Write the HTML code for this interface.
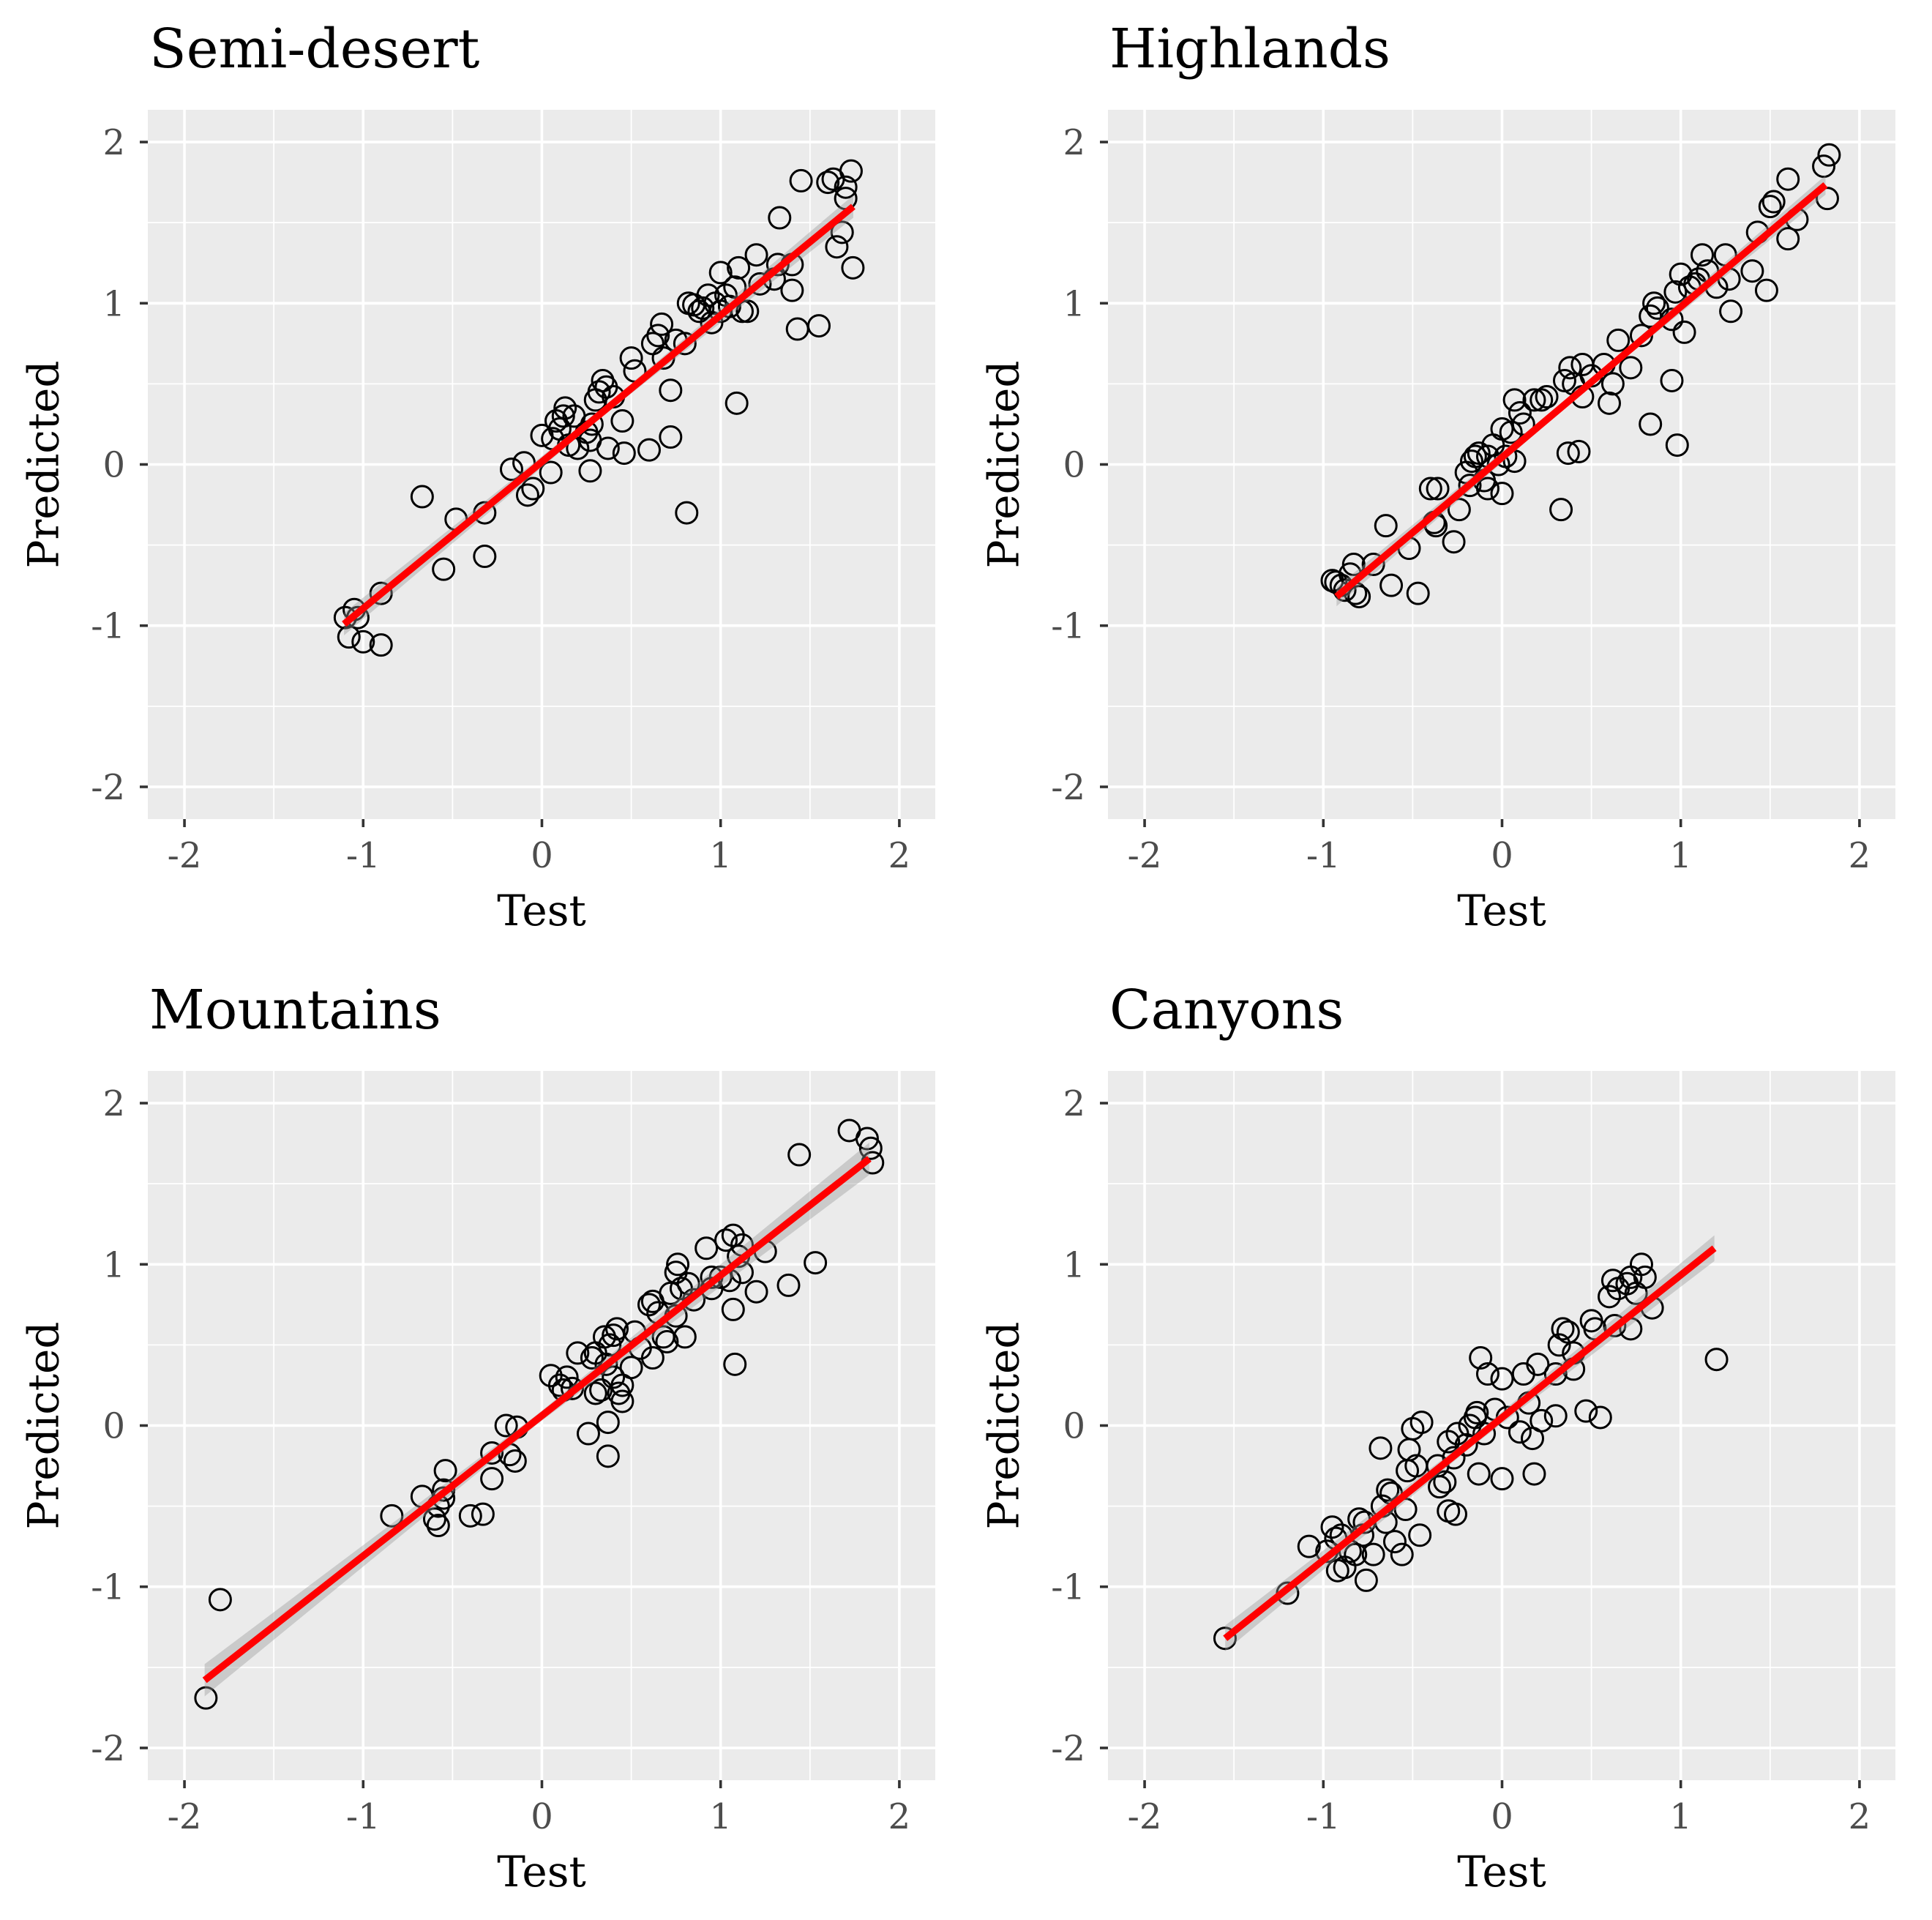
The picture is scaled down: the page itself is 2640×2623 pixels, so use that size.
<!DOCTYPE html>
<html><head><meta charset="utf-8">
<style>
html,body{margin:0;padding:0;background:#fff;}
svg{display:block;font-family:"DejaVu Serif","Liberation Serif",serif;}
</style></head>
<body>
<svg id="chart" width="2640" height="2623" viewBox="0 0 2640 2623" xmlns="http://www.w3.org/2000/svg"></svg>
<script>
const panelNames = ["Semi-desert","Highlands","Mountains","Canyons"];
const xTicks = [-2,-1,0,1,2];
const yTicks = [-2,-1,0,1,2];
const tickLabels = ["-2","-1","0","1","2"];

const semiDesert = [[-1.1,-0.95],[-1.08,-1.07],[-1.05,-0.9],[-1.03,-0.95],[-1.0,-1.1],[-0.9,-1.12],[-0.9,-0.8],[-0.67,-0.2],[-0.55,-0.65],[-0.48,-0.34],[-0.32,-0.3],[-0.32,-0.57],[-0.17,-0.03],[-0.1,0.01],[-0.08,-0.19],[-0.05,-0.15],[0.0,0.18],[0.05,-0.05],[0.06,0.16],[0.08,0.27],[0.1,0.22],[0.12,0.3],[0.13,0.35],[0.15,0.12],[0.18,0.3],[0.2,0.1],[0.25,0.2],[0.27,0.15],[0.27,-0.04],[0.28,0.25],[0.3,0.4],[0.32,0.45],[0.34,0.52],[0.36,0.48],[0.37,0.1],[0.4,0.42],[0.45,0.27],[0.46,0.07],[0.5,0.66],[0.52,0.58],[0.6,0.09],[0.62,0.75],[0.65,0.8],[0.67,0.87],[0.68,0.66],[0.72,0.17],[0.72,0.46],[0.75,0.77],[0.8,0.75],[0.81,-0.3],[0.82,1.0],[0.85,0.99],[0.88,0.95],[0.9,0.97],[0.93,1.05],[0.95,0.88],[0.97,1.0],[1.0,0.95],[1.0,1.19],[1.03,1.05],[1.05,0.98],[1.08,1.1],[1.09,0.38],[1.1,1.22],[1.12,0.95],[1.15,0.95],[1.2,1.3],[1.22,1.12],[1.3,1.15],[1.32,1.24],[1.33,1.53],[1.4,1.08],[1.4,1.24],[1.43,0.84],[1.45,1.76],[1.55,0.86],[1.6,1.75],[1.63,1.77],[1.65,1.35],[1.68,1.44],[1.7,1.65],[1.7,1.72],[1.73,1.82],[1.74,1.22]];
const highlands = [[-0.95,-0.72],[-0.93,-0.73],[-0.9,-0.75],[-0.88,-0.78],[-0.85,-0.68],[-0.83,-0.62],[-0.82,-0.8],[-0.8,-0.82],[-0.72,-0.62],[-0.65,-0.38],[-0.62,-0.75],[-0.52,-0.52],[-0.47,-0.8],[-0.4,-0.15],[-0.38,-0.36],[-0.36,-0.15],[-0.37,-0.38],[-0.27,-0.48],[-0.24,-0.28],[-0.2,-0.05],[-0.18,-0.13],[-0.17,0.02],[-0.15,0.05],[-0.13,0.07],[-0.1,-0.1],[-0.08,-0.15],[-0.08,0.05],[-0.05,0.12],[-0.02,0.0],[0.0,-0.18],[0.02,0.05],[0.0,0.22],[0.05,0.2],[0.07,0.02],[0.07,0.4],[0.1,0.32],[0.12,0.25],[0.18,0.4],[0.22,0.4],[0.25,0.42],[0.33,-0.28],[0.35,0.52],[0.37,0.07],[0.38,0.6],[0.4,0.5],[0.43,0.08],[0.45,0.62],[0.45,0.42],[0.5,0.55],[0.57,0.62],[0.6,0.38],[0.62,0.5],[0.65,0.77],[0.72,0.6],[0.78,0.8],[0.83,0.25],[0.83,0.92],[0.85,1.0],[0.87,0.97],[0.95,0.52],[0.95,0.9],[0.97,1.07],[0.98,0.12],[1.0,1.18],[1.02,0.82],[1.05,1.1],[1.08,1.12],[1.1,1.15],[1.12,1.3],[1.15,1.2],[1.2,1.1],[1.25,1.3],[1.27,1.15],[1.28,0.95],[1.4,1.2],[1.43,1.44],[1.48,1.08],[1.5,1.6],[1.52,1.63],[1.6,1.4],[1.6,1.77],[1.65,1.52],[1.8,1.85],[1.82,1.65],[1.83,1.92]];
const mountains = [[-1.88,-1.69],[-1.8,-1.08],[-0.84,-0.56],[-0.67,-0.44],[-0.6,-0.58],[-0.58,-0.62],[-0.58,-0.5],[-0.55,-0.4],[-0.54,-0.28],[-0.55,-0.45],[-0.4,-0.56],[-0.33,-0.55],[-0.28,-0.17],[-0.28,-0.33],[-0.2,0.0],[-0.18,-0.18],[-0.15,-0.22],[-0.14,-0.01],[0.05,0.31],[0.1,0.25],[0.12,0.22],[0.14,0.3],[0.17,0.23],[0.2,0.45],[0.26,-0.05],[0.28,0.42],[0.3,0.2],[0.3,0.45],[0.33,0.22],[0.35,0.55],[0.36,0.38],[0.37,0.02],[0.37,-0.19],[0.38,0.5],[0.4,0.56],[0.4,0.3],[0.42,0.6],[0.43,0.2],[0.45,0.25],[0.45,0.15],[0.5,0.36],[0.52,0.58],[0.55,0.48],[0.6,0.75],[0.62,0.77],[0.62,0.42],[0.65,0.7],[0.68,0.55],[0.7,0.52],[0.72,0.82],[0.75,0.68],[0.75,0.95],[0.76,1.0],[0.78,0.85],[0.8,0.55],[0.82,0.88],[0.85,0.78],[0.92,1.1],[0.95,0.92],[0.95,0.85],[1.0,0.92],[1.03,1.15],[1.05,0.9],[1.07,1.18],[1.07,0.72],[1.08,0.38],[1.1,1.05],[1.12,0.95],[1.12,1.12],[1.2,0.83],[1.25,1.08],[1.38,0.87],[1.44,1.68],[1.53,1.01],[1.72,1.83],[1.82,1.78],[1.84,1.72],[1.85,1.63]];
const canyons = [[-1.55,-1.32],[-1.2,-1.04],[-1.08,-0.75],[-0.98,-0.78],[-0.95,-0.63],[-0.93,-0.7],[-0.92,-0.9],[-0.9,-0.68],[-0.88,-0.88],[-0.85,-0.78],[-0.82,-0.8],[-0.8,-0.58],[-0.78,-0.68],[-0.77,-0.6],[-0.76,-0.96],[-0.72,-0.8],[-0.68,-0.14],[-0.67,-0.5],[-0.65,-0.6],[-0.64,-0.4],[-0.62,-0.42],[-0.6,-0.72],[-0.56,-0.8],[-0.54,-0.52],[-0.53,-0.28],[-0.52,-0.15],[-0.5,-0.02],[-0.48,-0.25],[-0.45,0.02],[-0.46,-0.68],[-0.36,-0.25],[-0.35,-0.38],[-0.32,-0.35],[-0.3,-0.53],[-0.3,-0.1],[-0.27,-0.2],[-0.26,-0.55],[-0.25,-0.05],[-0.2,-0.12],[-0.18,0.0],[-0.15,0.05],[-0.14,0.08],[-0.13,-0.3],[-0.12,0.42],[-0.1,-0.05],[-0.08,0.32],[-0.04,0.1],[0.0,0.29],[0.0,-0.33],[0.03,0.05],[0.1,-0.04],[0.12,0.32],[0.15,0.14],[0.18,-0.3],[0.17,-0.08],[0.2,0.38],[0.22,0.03],[0.3,0.06],[0.3,0.32],[0.32,0.5],[0.34,0.6],[0.37,0.58],[0.4,0.35],[0.4,0.45],[0.47,0.09],[0.5,0.65],[0.52,0.6],[0.55,0.05],[0.6,0.8],[0.62,0.9],[0.63,0.62],[0.65,0.85],[0.7,0.88],[0.72,0.6],[0.72,0.92],[0.75,0.82],[0.78,1.0],[0.8,0.92],[0.84,0.73],[1.2,0.41]];

const fitStartX = [-1.107,-0.926,-1.887,-1.549];
const fitStartY = [-0.99,-0.82,-1.58,-1.32];
const fitEndX = [1.742,1.81,1.832,1.188];
const fitEndY = [1.60,1.734,1.655,1.10];
const bandEdge = [0.07,0.06,0.1,0.08];
const bandMid = [0.025,0.02,0.03,0.03];

const panelData = [semiDesert, highlands, mountains, canyons];
const NS = "http://www.w3.org/2000/svg";
const svg = document.getElementById('chart');
const W = 1076, H = 969, XMIN = -2.205, XMAX = 2.201, YMIN = -2.2, YMAX = 2.2;
const lefts = [202,1514,202,1514], tops = [150,150,1463,1463];

function mk(tag, attrs, parent){
  const e = document.createElementNS(NS, tag);
  for (const k in attrs) e.setAttribute(k, attrs[k]);
  parent.appendChild(e);
  return e;
}

panelData.forEach((pts, p) => {
  const L = lefts[p], T = tops[p];
  const sx = v => L + (v - XMIN) / (XMAX - XMIN) * W;
  const sy = v => T + (YMAX - v) / (YMAX - YMIN) * H;
  const g = mk('g', {}, svg);
  
  

  const bg = mk('rect', {x:L, y:T, width:W, height:H, fill:'#ebebeb'}, g);
  
  

  const grid = mk('g', {stroke:'#fff'}, g);
  
  
  for (let i = 0; i < xTicks.length - 1; i++) {
    const m = (xTicks[i] + xTicks[i+1]) / 2;
    mk('line', {x1:sx(m), x2:sx(m), y1:T, y2:T+H, 'stroke-width':1.8}, grid);
    const my = (yTicks[i] + yTicks[i+1]) / 2;
    mk('line', {x1:L, x2:L+W, y1:sy(my), y2:sy(my), 'stroke-width':1.8}, grid);
  }
  xTicks.forEach(v => mk('line', {x1:sx(v), x2:sx(v), y1:T, y2:T+H, 'stroke-width':3.6}, grid));
  yTicks.forEach(v => mk('line', {x1:L, x2:L+W, y1:sy(v), y2:sy(v), 'stroke-width':3.6}, grid));

  const xa = mk('g', {}, g);
  
  
  xTicks.forEach((v, i) => {
    mk('line', {x1:sx(v), x2:sx(v), y1:T+H, y2:T+H+11, stroke:'#333', 'stroke-width':3.6}, xa);
    const t = mk('text', {x:sx(v), y:T+H+66, 'text-anchor':'middle', 'font-size':48, fill:'#4d4d4d'}, xa);
    t.textContent = tickLabels[i];
    
    
  });
  const ya = mk('g', {}, g);
  
  
  yTicks.forEach((v, i) => {
    mk('line', {x1:L-11, x2:L, y1:sy(v), y2:sy(v), stroke:'#333', 'stroke-width':3.6}, ya);
    const t = mk('text', {x:L-31, y:sy(v)+17, 'text-anchor':'end', 'font-size':48, fill:'#4d4d4d'}, ya);
    t.textContent = tickLabels[i];
    
    
  });
  const xt = mk('text', {x:L+W/2, y:T+H+145, 'text-anchor':'middle', 'font-size':58, fill:'#000'}, g);
  xt.textContent = 'Test';
  
  
  const ycx = L - 143, ycy = T + H/2;
  const yt = mk('text', {x:ycx, y:ycy, 'text-anchor':'middle', 'font-size':58, fill:'#000', transform:`rotate(-90 ${ycx} ${ycy})`, dy:'0.35em'}, g);
  yt.textContent = 'Predicted';
  
  
  const tt = mk('text', {x:L+2, y:T-58, 'font-size':74, fill:'#000'}, g);
  tt.textContent = panelNames[p];
  
  

  const pg = mk('g', {fill:'none', stroke:'#000', 'stroke-width':3}, g);
  
  
  pts.forEach(d => {
    const c = mk('circle', {cx:sx(d[0]), cy:sy(d[1]), r:14.5}, pg);
    
    
  });

  const x0 = fitStartX[p], y0 = fitStartY[p], x1 = fitEndX[p], y1 = fitEndY[p];
  const xm = (x0+x1)/2, ym = (y0+y1)/2;
  const e = bandEdge[p], m = bandMid[p];
  const band = mk('polygon', {points:[
    [sx(x0),sy(y0+e)],[sx(xm),sy(ym+m)],[sx(x1),sy(y1+e)],
    [sx(x1),sy(y1-e)],[sx(xm),sy(ym-m)],[sx(x0),sy(y0-e)]].map(a=>a.join(',')).join(' '),
    fill:'#999', 'fill-opacity':0.4}, g);
  
  
  const fl = mk('line', {x1:sx(x0), y1:sy(y0), x2:sx(x1), y2:sy(y1), stroke:'#ff0000', 'stroke-width':9.5}, g);
  
  
});
</script>
</body></html>
